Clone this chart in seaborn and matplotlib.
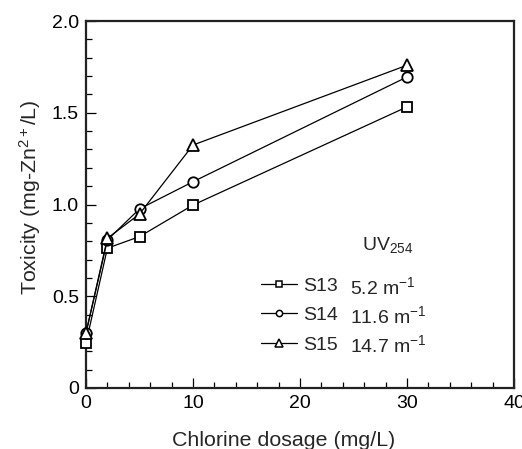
import matplotlib
matplotlib.use("Agg")
import matplotlib.pyplot as plt
from matplotlib.lines import Line2D
from matplotlib.ticker import MultipleLocator, FixedLocator, FixedFormatter
import seaborn as sns
import pandas as pd

dosage = [0, 2, 5, 10, 30]
s13 = [0.245, 0.762, 0.825, 0.997, 1.532]
s14 = [0.30, 0.807, 0.976, 1.124, 1.695]
s15 = [0.30, 0.816, 0.948, 1.324, 1.759]
series_names = ["S13", "S14", "S15"]
uv_values = ["5.2 m$^{-1}$", "11.6 m$^{-1}$", "14.7 m$^{-1}$"]
markers = ["s", "o", "^"]
x_ticks = [0, 10, 20, 30, 40]
x_ticklabels = ["0", "10", "20", "30", "40"]
y_ticks = [0, 0.5, 1.0, 1.5, 2.0]
y_ticklabels = ["0", "0.5", "1.0", "1.5", "2.0"]

sns.set_style("ticks")
plt.rcParams["font.family"] = ["Liberation Sans", "DejaVu Sans"]
plt.rcParams["mathtext.fontset"] = "custom"
plt.rcParams["mathtext.rm"] = "Liberation Sans"
plt.rcParams["mathtext.it"] = "Liberation Sans"

fig = plt.figure(figsize=(5.22, 4.49), dpi=100)
ax = fig.add_axes([86/522, 1 - 388/449, (514-86)/522, (388-21)/449])

msizes = [7.5, 7.5, 8.5]
for name, vals, mk, ms in zip(series_names, [s13, s14, s15], markers, msizes):
    df = pd.DataFrame({"x": dosage, "y": vals})
    sns.lineplot(data=df, x="x", y="y", ax=ax, color="black", linewidth=0.9,
                 marker=mk, markersize=ms, markerfacecolor="white",
                 markeredgecolor="black", markeredgewidth=1.3, clip_on=False,
                 zorder=3)

ax.set_xlim(0, 40)
ax.set_ylim(0, 2.0)
ax.xaxis.set_major_locator(FixedLocator(x_ticks))
ax.xaxis.set_major_formatter(FixedFormatter(x_ticklabels))
ax.yaxis.set_major_locator(FixedLocator(y_ticks))
ax.yaxis.set_major_formatter(FixedFormatter(y_ticklabels))
ax.xaxis.set_minor_locator(MultipleLocator(2))
ax.yaxis.set_minor_locator(MultipleLocator(0.1))
ax.tick_params(which="both", direction="in", top=False, right=False,
               colors="black", labelsize=14, width=0.9)
ax.tick_params(which="major", length=7, pad=5)
ax.tick_params(which="minor", length=4.5)
for s in ax.spines.values():
    s.set_visible(True)
    s.set_linewidth(1.6)
    s.set_color("#222222")

ax.set_xlabel("Chlorine dosage (mg/L)", fontsize=15.4)
ax.xaxis.set_label_coords((283.5-86)/428, -(431-388)/367)
ax.set_ylabel("Toxicity (mg-Zn$^{2+}$/L)", fontsize=15.4)
ax.yaxis.set_label_coords(-(86-43)/428, 1 - (197-21)/367)

handles = [Line2D([], [], color="black", linewidth=0.9, marker=mk, markersize=ms,
                  markerfacecolor="white", markeredgecolor="black",
                  markeredgewidth=1.1) for mk, ms in zip(markers, [4.5, 4.5, 5.5])]
leg = ax.legend(handles, series_names, loc="upper left",
                bbox_to_anchor=((261-86)/428, 1 - (277-21)/367),
                frameon=False, fontsize=14, handlelength=1.85, handletextpad=0.3,
                labelspacing=0.62, borderpad=0, borderaxespad=0)

for i, v in enumerate(uv_values):
    y_px = 294 + i*29
    ax.text((350-86)/428, 1 - (y_px-21)/367, v, transform=ax.transAxes,
            fontsize=14, va="baseline", ha="left")
ax.text((362-86)/428, 1 - (250-21)/367, "UV$_{254}$", transform=ax.transAxes,
        fontsize=14, va="baseline", ha="left")

fig.savefig("out.png", dpi=100)
